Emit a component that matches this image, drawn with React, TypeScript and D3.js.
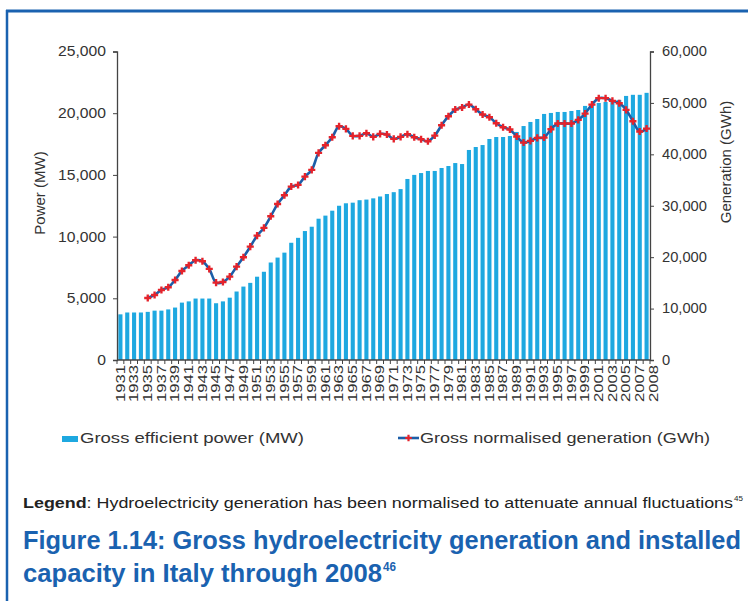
import { useRef, useEffect } from 'react';
import * as d3 from 'd3';

// categories
const years: number[] = d3.range(1931, 2009);

// Gross efficient power (MW), left axis
const power: number[] = [
  3700, 3850, 3850, 3850, 3900, 4000, 4000, 4100, 4250,
  4650, 4750, 4980, 4980, 4980, 4600, 4750, 5050, 5550, 5950,
  6250, 6750, 7150, 7900, 8300, 8700, 9500, 9900, 10450, 10800,
  11450, 11700, 12100, 12500, 12700, 12750, 12950, 13000, 13100, 13250,
  13450, 13600, 13850, 14670, 15000, 15150, 15320, 15320, 15560, 15720,
  15960, 15880, 17020, 17260, 17420, 17910, 18070, 18070, 18150, 18480,
  18960, 19290, 19530, 19940, 20020, 20100, 20100, 20180, 20260, 20590,
  20750, 20830, 20910, 21000, 21080, 21400, 21490, 21490, 21650,
];

// Gross normalised generation (GWh), right axis
const generation: (number | null)[] = [
  null, null, null, null, 12060, 12650, 13620, 14140, 15570,
  17320, 18420, 19390, 19200, 17710, 15050, 15180, 16220, 18160, 19980,
  22050, 24190, 25690, 27950, 30350, 32040, 33730, 34050, 35670, 36970,
  40280, 41770, 43330, 45470, 44950, 43590, 43590, 44100, 43390, 43980,
  43850, 43000, 43390, 43910, 43330, 42940, 42550, 43650, 45660, 47410,
  48710, 49100, 49680, 48770, 47740, 47220, 46050, 45270, 44820, 43460,
  42290, 42610, 43200, 43260, 44880, 45990, 45990, 45990, 46700, 47930,
  49680, 50920, 50920, 50400, 49940, 48650, 46440, 44430, 45010,
];

const powerTicks = [0, 5000, 10000, 15000, 20000, 25000];
const genTicks = [0, 10000, 20000, 30000, 40000, 50000, 60000];
const yearLabels = [...years.filter((y) => (y - 1931) % 2 === 0), 2008];

const W = 748;
const H = 601;
const FONT = '"Liberation Sans", Arial, sans-serif';
const BAR = '#1ea8e0';
const LINE = '#1c5ea8';
const DOT = '#e5232b';
const FRAME = '#1a62b0';
const AXIS = '#444';

export default function App() {
  const svgRef = useRef<SVGSVGElement>(null);

  useEffect(() => {
    const svg = d3.select(svgRef.current);
    svg.selectAll('*').remove();

    const left = 117, right = 650, top = 51.5, bottom = 360;

    const x = d3.scaleBand<number>().domain(years).range([left, right]).paddingInner(0.4).paddingOuter(0.2);
    const yL = d3.scaleLinear().domain([0, 25000]).range([bottom, top]);
    const yR = d3.scaleLinear().domain([0, 60000]).range([bottom, top]);
    const cx = (yr: number) => (x(yr) as number) + x.bandwidth() / 2;
    const step = x.step();

    // frame
    svg.append('line').attr('x1', 6).attr('x2', W).attr('y1', 11).attr('y2', 11)
      .attr('stroke', FRAME).attr('stroke-width', 3);
    svg.append('line').attr('x1', 7).attr('x2', 7).attr('y1', 10).attr('y2', H)
      .attr('stroke', FRAME).attr('stroke-width', 2.5);

    // bars
    svg.append('g').selectAll('rect')
      .data(years)
      .join('rect')
      .attr('x', (d) => x(d) as number)
      .attr('width', x.bandwidth())
      .attr('y', (d, i) => yL(power[i]))
      .attr('height', (d, i) => bottom - yL(power[i]))
      .attr('fill', BAR);

    // axes
    const axL = svg.append('g').attr('transform', `translate(${left},0)`)
      .call(d3.axisLeft(yL).tickValues(powerTicks).tickSize(4).tickFormat(() => ''));
    const axR = svg.append('g').attr('transform', `translate(${right},0)`)
      .call(d3.axisRight(yR).tickValues(genTicks).tickSize(4).tickFormat(() => ''));
    [axL, axR].forEach((g) => {
      g.select('.domain').attr('stroke', AXIS).attr('stroke-width', 1.3);
      g.selectAll('.tick line').attr('stroke', AXIS);
    });

    const xb = svg.append('g');
    xb.append('line').attr('x1', left).attr('x2', right).attr('y1', bottom).attr('y2', bottom)
      .attr('stroke', AXIS).attr('stroke-width', 1.3);
    xb.selectAll('line.t')
      .data(d3.range(years.length + 1))
      .join('line')
      .attr('class', 't')
      .attr('x1', (i) => left + i * step)
      .attr('x2', (i) => left + i * step)
      .attr('y1', bottom)
      .attr('y2', bottom + 4)
      .attr('stroke', AXIS);

    // tick labels
    svg.append('g').selectAll('text')
      .data(powerTicks)
      .join('text')
      .attr('transform', (d) => `translate(${left - 11},${yL(d)}) scale(1.12,1)`)
      .attr('text-anchor', 'end')
      .attr('dy', '0.35em')
      .attr('font-family', FONT)
      .attr('font-size', 14)
      .attr('fill', '#333')
      .text((d) => d3.format(',')(d));

    svg.append('g').selectAll('text')
      .data(genTicks)
      .join('text')
      .attr('transform', (d) => `translate(${right + 12},${yR(d)}) scale(1.05,1)`)
      .attr('dy', '0.35em')
      .attr('font-family', FONT)
      .attr('font-size', 14)
      .attr('fill', '#333')
      .text((d) => d3.format(',')(d));

    // the last label sits one label-step past 2007 so it does not overlap
    const labelX = (d: number) => (d === 2008 ? cx(2007) + 2 * step : cx(d));
    svg.append('g').selectAll('text')
      .data(yearLabels)
      .join('text')
      .attr('transform', (d) => `translate(${labelX(d)},${bottom + 5}) rotate(-90)`)
      .attr('text-anchor', 'end')
      .attr('dy', '0.36em')
      .attr('font-family', FONT)
      .attr('font-size', 12)
      .attr('textLength', 37)
      .attr('lengthAdjust', 'spacingAndGlyphs')
      .attr('fill', '#333')
      .text((d) => String(d));

    // axis titles
    svg.append('text')
      .attr('transform', `translate(45,193) rotate(-90)`)
      .attr('text-anchor', 'middle')
      .attr('font-family', FONT).attr('font-size', 15).attr('fill', '#333')
      .text('Power (MW)');
    svg.append('text')
      .attr('transform', `translate(731,162) rotate(-90)`)
      .attr('text-anchor', 'middle')
      .attr('font-family', FONT).attr('font-size', 15).attr('fill', '#333')
      .text('Generation (GWh)');

    // line
    const pts = years
      .map((yr, i) => ({ yr, v: generation[i] }))
      .filter((d) => d.v !== null) as { yr: number; v: number }[];
    const line = d3.line<{ yr: number; v: number }>()
      .x((d) => cx(d.yr))
      .y((d) => yR(d.v))
      .curve(d3.curveCatmullRom.alpha(0.5));
    svg.append('path')
      .attr('d', line(pts))
      .attr('fill', 'none')
      .attr('stroke', LINE)
      .attr('stroke-width', 2.6);
    svg.append('g').selectAll('path')
      .data(pts)
      .join('path')
      .attr('transform', (d) => `translate(${cx(d.yr)},${yR(d.v)})`)
      .attr('d', d3.symbol(d3.symbolCross, 28)())
      .attr('fill', DOT);

    // legend
    svg.append('rect').attr('x', 62).attr('y', 436).attr('width', 16).attr('height', 6).attr('fill', BAR);
    svg.append('text').attr('x', 80).attr('y', 443)
      .attr('font-family', FONT).attr('font-size', 15).attr('fill', '#333')
      .attr('textLength', 224).attr('lengthAdjust', 'spacingAndGlyphs')
      .text('Gross efficient power (MW)');
    svg.append('line').attr('x1', 398).attr('x2', 419).attr('y1', 438).attr('y2', 438)
      .attr('stroke', LINE).attr('stroke-width', 2.6);
    svg.append('path').attr('transform', 'translate(408.5,438)')
      .attr('d', d3.symbol(d3.symbolCross, 24)()).attr('fill', DOT);
    svg.append('text').attr('x', 420).attr('y', 443)
      .attr('font-family', FONT).attr('font-size', 15).attr('fill', '#333')
      .attr('textLength', 290).attr('lengthAdjust', 'spacingAndGlyphs')
      .text('Gross normalised generation (GWh)');

    // caption
    const cap = svg.append('text').attr('x', 23).attr('y', 508)
      .attr('font-family', FONT).attr('font-size', 14).attr('fill', '#222')
      .attr('textLength', 710).attr('lengthAdjust', 'spacingAndGlyphs');
    cap.append('tspan').attr('font-weight', 'bold').text('Legend');
    cap.append('tspan').text(': Hydroelectricity generation has been normalised to attenuate annual fluctuations');
    svg.append('text').attr('x', 734).attr('y', 501)
      .attr('font-family', FONT).attr('font-size', 8).attr('fill', '#222').text('45');

    svg.append('text').attr('x', 23).attr('y', 549)
      .attr('font-family', FONT).attr('font-size', 25).attr('font-weight', 'bold').attr('fill', FRAME)
      .attr('textLength', 718).attr('lengthAdjust', 'spacingAndGlyphs')
      .text('Figure 1.14: Gross hydroelectricity generation and installed');
    svg.append('text').attr('x', 23).attr('y', 582)
      .attr('font-family', FONT).attr('font-size', 25).attr('font-weight', 'bold').attr('fill', FRAME)
      .attr('textLength', 359).attr('lengthAdjust', 'spacingAndGlyphs')
      .text('capacity in Italy through 2008');
    svg.append('text').attr('x', 383).attr('y', 571)
      .attr('font-family', FONT).attr('font-size', 12).attr('font-weight', 'bold').attr('fill', FRAME)
      .attr('textLength', 13).attr('lengthAdjust', 'spacingAndGlyphs')
      .text('46');
  }, []);

  return (
    <svg
      ref={svgRef}
      width={W}
      height={H}
      style={{ position: 'absolute', left: 0, top: 0, background: '#fff' }}
    />
  );
}
